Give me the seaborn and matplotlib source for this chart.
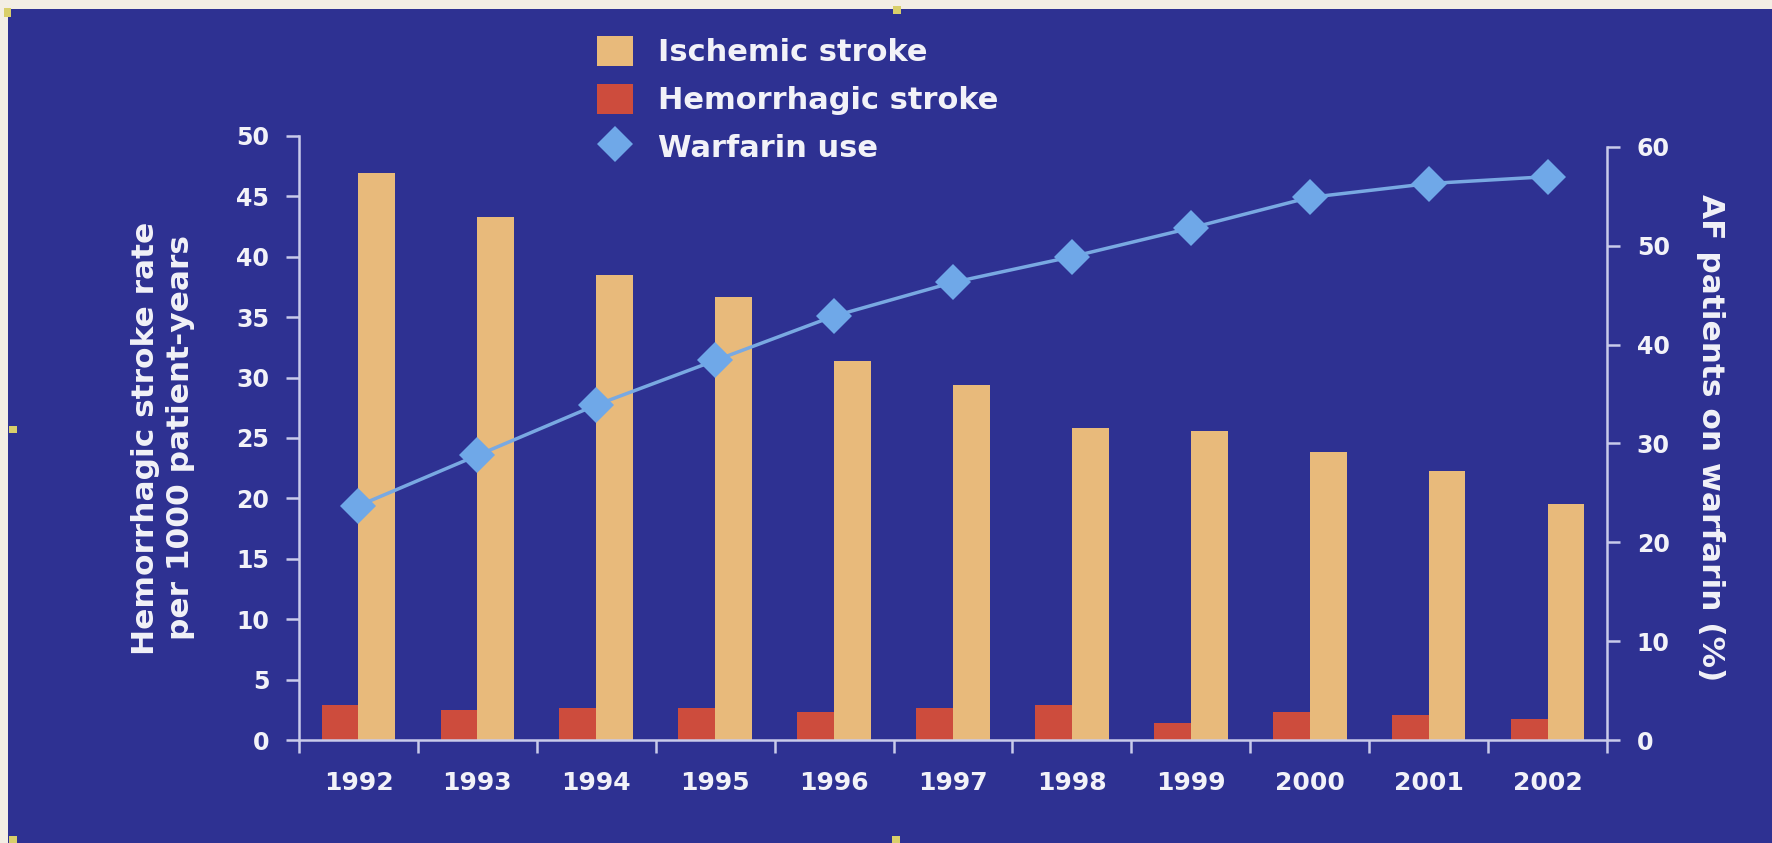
import matplotlib
matplotlib.use("Agg")
import matplotlib.pyplot as plt
from matplotlib.patches import Rectangle, Patch
from matplotlib.lines import Line2D
import seaborn as sns
import pandas as pd
import numpy as np

# ---- data -------------------------------------------------------------
years = ["1992", "1993", "1994", "1995", "1996", "1997",
         "1998", "1999", "2000", "2001", "2002"]
ischemic = [46.9, 43.3, 38.5, 36.7, 31.4, 29.4, 25.8, 25.6, 23.8, 22.3, 19.5]
hemorrhagic = [2.9, 2.5, 2.65, 2.65, 2.3, 2.65, 2.9, 1.4, 2.3, 2.1, 1.7]
warfarin = [23.7, 28.8, 33.9, 38.4, 42.9, 46.3, 48.9, 51.8, 54.9, 56.3, 57.0]

series_labels = ["Ischemic stroke", "Hemorrhagic stroke", "Warfarin use"]
left_ticks = [0, 5, 10, 15, 20, 25, 30, 35, 40, 45, 50]
right_ticks = [0, 10, 20, 30, 40, 50, 60]
left_title = "Hemorrhagic stroke rate\nper 1000 patient-years"
right_title = "AF patients on warfarin (%)"

# ---- style ------------------------------------------------------------
BG = "#2E3192"
PAGE = "#F3EEE4"
ORANGE = "#E8BA7B"
RED = "#CD4C3D"
DIAMOND = "#6FA8E8"
LINE = "#79A9E2"
TXT = "#F2F2F8"
SPINE = "#C9CBEA"

sns.set_theme(style="white")
plt.rcParams["font.family"] = ["DejaVu Sans"]
plt.rcParams["font.weight"] = "bold"
plt.rcParams["axes.labelweight"] = "bold"

W, H = 1772, 843
fig = plt.figure(figsize=(W / 100, H / 100), dpi=100, facecolor=PAGE)

# slide background panel
fig.patches.append(Rectangle((8 / W, 0), 1, (H - 9) / H, transform=fig.transFigure,
                             facecolor=BG, edgecolor="none", zorder=-10))
# small selection handles around the slide
for (hx, hy, hw, hh) in [(4, 8, 7, 9), (893, 6, 8, 8), (9, 426, 8, 7),
                         (9, 836, 8, 7), (892, 836, 8, 7)]:
    fig.patches.append(Rectangle((hx / W, 1 - (hy + hh) / H), hw / W, hh / H,
                                 transform=fig.transFigure, facecolor="#D9CF6A",
                                 edgecolor="none", zorder=-5))

ax = fig.add_axes([299 / W, (H - 740) / H, 1308 / W, 604 / H])
ax.patch.set_visible(False)

df = pd.DataFrame({
    "year": years * 2,
    "rate": hemorrhagic + ischemic,
    "type": [series_labels[1]] * len(years) + [series_labels[0]] * len(years),
})
sns.barplot(data=df, x="year", y="rate", hue="type",
            hue_order=[series_labels[1], series_labels[0]],
            palette={series_labels[0]: ORANGE, series_labels[1]: RED},
            width=0.62, dodge=True, saturation=1, linewidth=0,
            errorbar=None, legend=False, ax=ax)

ax2 = ax.twinx()
ax2.patch.set_visible(False)
sns.pointplot(x=years, y=warfarin, ax=ax2, color=LINE, markers="D",
              markersize=18, linewidth=2.5, markeredgewidth=0,
              errorbar=None)
for ln in ax2.lines:
    ln.set_markerfacecolor(DIAMOND)

ax.set_xlim(-0.5, len(years) - 0.5)
ax.set_ylim(0, 50)
ax2.set_ylim(0, 604 / 593 * 60)

ax.set_yticks(left_ticks)
ax2.set_yticks(right_ticks)
ax.set_xticks(range(len(years)))
ax.set_xticklabels(years)
ax.set_xticks(np.arange(-0.5, len(years)), minor=True)
ax.set_xlabel("")

ax.tick_params(axis="x", which="major", length=0, pad=22, labelsize=18,
               labelcolor=TXT)
ax.tick_params(axis="x", which="minor", length=9, width=1.8, color=SPINE,
               direction="out", bottom=True)
ax.tick_params(axis="y", length=9.4, width=1.8, color=SPINE, pad=12,
               labelsize=17, labelcolor=TXT, direction="out", left=True)
ax2.tick_params(axis="y", length=9.4, width=1.8, color=SPINE, pad=12,
                labelsize=17, labelcolor=TXT, direction="out", right=True)

for name, sp in ax.spines.items():
    sp.set_visible(name in ("left", "bottom"))
    sp.set_color(SPINE)
    sp.set_linewidth(1.8)
for name, sp in ax2.spines.items():
    sp.set_visible(name == "right")
    sp.set_color(SPINE)
    sp.set_linewidth(1.8)
ax2.spines["right"].set_bounds(0, 60)

ax.set_ylabel(left_title, fontsize=22.5, fontweight="bold", color=TXT,
              linespacing=1.3, va="center", ha="center")
ax.yaxis.set_label_coords(-0.104, 0.5)
ax2.set_ylabel(right_title, fontsize=22.5, fontweight="bold", color=TXT,
               rotation=-90, va="center", ha="center")
ax2.yaxis.set_label_coords(1.079, 0.5)

handles = [Patch(facecolor=ORANGE, edgecolor="none"),
           Patch(facecolor=RED, edgecolor="none"),
           Line2D([], [], marker="D", linestyle="none", color=DIAMOND,
                  markersize=18, markeredgewidth=0)]
fig.legend(handles=handles, labels=series_labels, loc="upper left",
           bbox_to_anchor=(597 / W, (H - 36) / H), frameon=False,
           fontsize=22, handlelength=1.18, handleheight=1.14,
           handletextpad=0.82, labelspacing=0.53, borderpad=0,
           borderaxespad=0, labelcolor=TXT)

fig.savefig("out.png", dpi=100, facecolor=PAGE)
